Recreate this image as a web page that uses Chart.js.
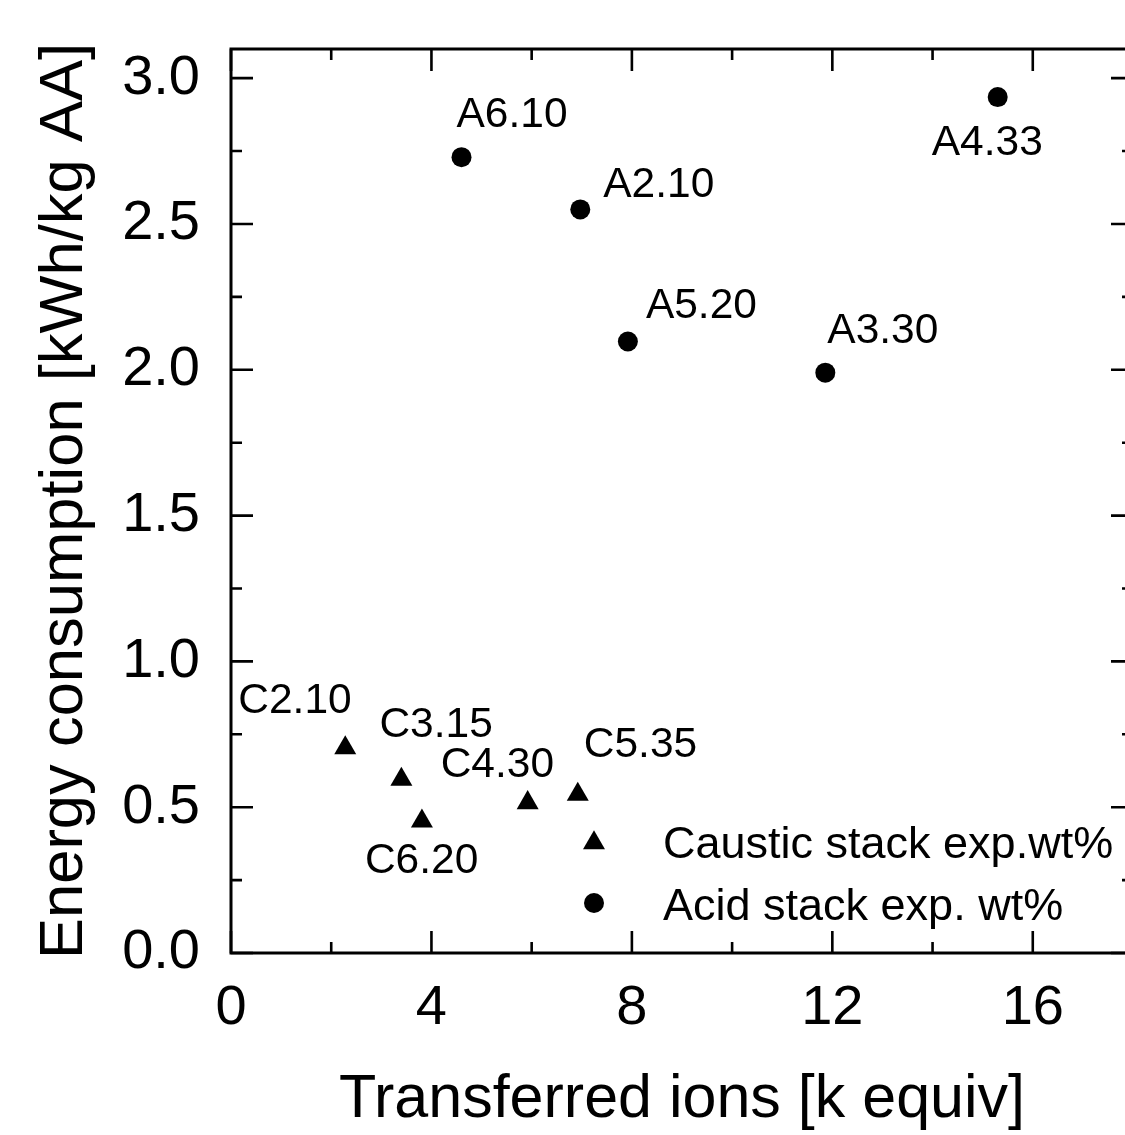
<!DOCTYPE html>
<html>
<head>
<meta charset="utf-8">
<script src="https://cdn.jsdelivr.net/npm/chart.js@4.4.1/dist/chart.umd.min.js"></script>
<style>
  html, body { margin: 0; padding: 0; background: #fff; overflow: hidden; }
  #wrap { width: 1150px; height: 1135px; }
</style>
</head>
<body>
<div id="wrap"><canvas id="chart" width="1150" height="1135"></canvas></div>
<script>
// values
const causticLabels = ['C2.10', 'C3.15', 'C6.20', 'C4.30', 'C5.35'];
const causticX = [2.28, 3.40, 3.81, 5.92, 6.92];
const causticY = [0.703, 0.595, 0.452, 0.515, 0.544];

const acidLabels = ['A6.10', 'A2.10', 'A5.20', 'A3.30', 'A4.33'];
const acidX = [4.60, 6.97, 7.92, 11.86, 15.30];
const acidY = [2.729, 2.550, 2.097, 1.990, 2.935];

const xMajorTicks = [0, 4, 8, 12, 16];
const yMajorTicks = [0, 0.5, 1.0, 1.5, 2.0, 2.5, 3.0];

// label placement (px from the point: left edge, baseline)
const causticLabelOffsets = [[-107, -35], [-22, -42], [-57, 52], [-87, -26], [6, -37]];
const acidLabelOffsets = [[-5, -30], [23, -12], [18, -23], [2, -30], [-66, 58]];

const FONT = '"Liberation Sans", Arial, sans-serif';
const INK = '#000';

const toPoints = (xs, ys) => xs.map((x, i) => ({ x: x, y: ys[i] }));

function drawMarker(ctx, style, x, y, r) {
    ctx.beginPath();
    if (style === 'triangle') {
        let rad = 0;
        ctx.moveTo(x + Math.sin(rad) * r, y - Math.cos(rad) * r);
        rad += Math.PI * 2 / 3;
        ctx.lineTo(x + Math.sin(rad) * r, y - Math.cos(rad) * r);
        rad += Math.PI * 2 / 3;
        ctx.lineTo(x + Math.sin(rad) * r, y - Math.cos(rad) * r);
        ctx.closePath();
    } else {
        ctx.arc(x, y, r, 0, Math.PI * 2);
    }
    ctx.fill();
}

// frame with inward ticks on all four sides
const framePlugin = {
    id: 'frame',
    afterDatasetsDraw(chart) {
        const { ctx, chartArea: a, scales } = chart;
        const xs = scales.x, ys = scales.y;
        ctx.save();
        ctx.strokeStyle = INK;
        ctx.lineWidth = 3;
        ctx.lineCap = 'butt';
        ctx.strokeRect(a.left, a.top, a.right - a.left, a.bottom - a.top);
        ctx.lineWidth = 2.6;
        for (let v = 0; v <= 18; v += 2) {
            const len = xMajorTicks.includes(v) ? 22 : 11;
            const px = xs.getPixelForValue(v);
            ctx.beginPath();
            ctx.moveTo(px, a.bottom); ctx.lineTo(px, a.bottom - len);
            ctx.moveTo(px, a.top); ctx.lineTo(px, a.top + len);
            ctx.stroke();
        }
        for (let i = 0; i <= 12; i++) {
            const v = i * 0.25;
            const len = (i % 2 === 0) ? 22 : 11;
            const py = ys.getPixelForValue(v);
            ctx.beginPath();
            ctx.moveTo(a.left, py); ctx.lineTo(a.left + len, py);
            ctx.moveTo(a.right, py); ctx.lineTo(a.right - len, py);
            ctx.stroke();
        }
        ctx.restore();
    }
};

// point labels and in-plot legend
const annotatePlugin = {
    id: 'annotate',
    afterDraw(chart) {
        const { ctx, chartArea: a } = chart;
        ctx.save();
        ctx.fillStyle = INK;
        ctx.textAlign = 'left';
        ctx.textBaseline = 'alphabetic';
        ctx.font = '42.5px ' + FONT;
        const sets = [
            { meta: chart.getDatasetMeta(0), labels: causticLabels, offs: causticLabelOffsets },
            { meta: chart.getDatasetMeta(1), labels: acidLabels, offs: acidLabelOffsets }
        ];
        sets.forEach(s => {
            s.meta.data.forEach((pt, i) => {
                ctx.fillText(s.labels[i], pt.x + s.offs[i][0], pt.y + s.offs[i][1]);
            });
        });

        // legend
        ctx.font = '45px ' + FONT;
        const mx = a.right - 539, tx = a.right - 470;
        const rows = [
            { ds: chart.data.datasets[0], my: a.bottom - 110, ty: a.bottom - 95 },
            { ds: chart.data.datasets[1], my: a.bottom - 50, ty: a.bottom - 33 }
        ];
        rows.forEach(r => {
            drawMarker(ctx, r.ds.pointStyle, mx, r.my, r.ds.pointRadius);
            ctx.fillText(r.ds.label, tx, r.ty);
        });
        ctx.restore();
    }
};

new Chart(document.getElementById('chart'), {
    type: 'scatter',
    data: {
        datasets: [
            {
                label: 'Caustic stack exp.wt%',
                data: toPoints(causticX, causticY),
                pointStyle: 'triangle',
                pointRadius: 12.7,
                backgroundColor: INK,
                borderWidth: 0
            },
            {
                label: 'Acid stack exp. wt%',
                data: toPoints(acidX, acidY),
                pointStyle: 'circle',
                pointRadius: 10,
                backgroundColor: INK,
                borderWidth: 0
            }
        ]
    },
    options: {
        responsive: false,
        animation: false,
        devicePixelRatio: 1,
        layout: { padding: { top: 49, right: 17, bottom: 0, left: 0 } },
        plugins: {
            legend: { display: false },
            tooltip: { enabled: false }
        },
        elements: { point: { hoverRadius: 0 } },
        scales: {
            x: {
                type: 'linear',
                min: 0,
                max: 18,
                grid: { display: false, drawTicks: false },
                border: { display: false },
                ticks: {
                    padding: 22,
                    color: INK,
                    maxRotation: 0,
                    font: { family: FONT, size: 56 }
                },
                afterBuildTicks: s => { s.ticks = xMajorTicks.map(v => ({ value: v })); },
                afterFit: s => { s.height = 182; },
                title: {
                    display: true,
                    text: 'Transferred ions [k equiv]',
                    color: INK,
                    font: { family: FONT, size: 61, lineHeight: 1 },
                    padding: { top: 0, bottom: 4 }
                }
            },
            y: {
                type: 'linear',
                min: 0,
                max: 3.1,
                grid: { display: false, drawTicks: false },
                border: { display: false },
                ticks: {
                    padding: 31,
                    color: INK,
                    font: { family: FONT, size: 56 },
                    callback: v => v.toFixed(1)
                },
                afterBuildTicks: s => { s.ticks = yMajorTicks.map(v => ({ value: v })); },
                afterFit: s => {
                    s.width = 231;
                    s.paddingTop = 0;
                    s.paddingBottom = 0;
                },
                title: {
                    display: true,
                    text: 'Energy consumption [kWh/kg AA]',
                    color: INK,
                    font: { family: FONT, size: 61.5, lineHeight: 1 },
                    padding: { top: 34, bottom: 0 }
                }
            }
        }
    },
    plugins: [framePlugin, annotatePlugin]
});
</script>
</body>
</html>
